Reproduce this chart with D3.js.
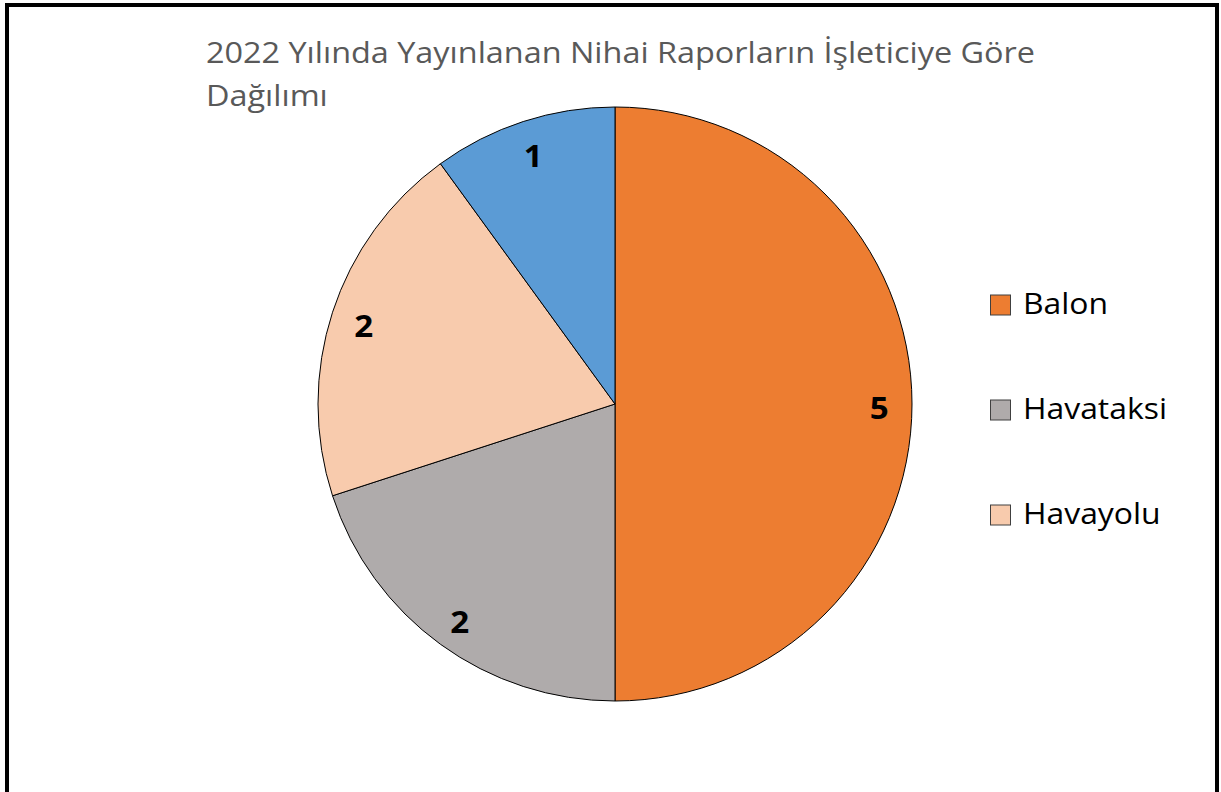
<!DOCTYPE html>
<html>
<head>
<meta charset="utf-8">
<script src="https://cdn.jsdelivr.net/npm/d3@7"></script>
<style>
  body { margin: 0; background: #fff; }
  svg text { font-family: "Open Sans", "Noto Sans", sans-serif; }
</style>
</head>
<body>
<div id="pieChart"></div>
<script>
// chart data
var categories = ["Balon", "Havataksi", "Havayolu", "Diğer"];
var values = [5, 2, 2, 1];
var colors = ["#ED7D31", "#AFABAB", "#F8CBAD", "#5B9BD5"];
var titleLines = ["2022 Yılında Yayınlanan Nihai Raporların İşleticiye Göre", "Dağılımı"];

var width = 1221,
    height = 792;

var cx = 615, cy = 404, radius = 297;

var svg = d3.select("#pieChart")
  .append("svg")
    .attr("width", width)
    .attr("height", height);

// outer frame (bottom edge is cut off in the original)
svg.append("path")
  .attr("d", "M7,795 L7,5 L1217,5 L1217,795")
  .attr("fill", "none")
  .attr("stroke", "#000")
  .attr("stroke-width", 4);

// title - text in the original is a bit wider, so stretch it
svg.append("g")
  .selectAll("text")
  .data(titleLines)
  .enter()
  .append("text")
    .attr("transform", function(d, i) { return "translate(206," + (63 + i * 43) + ") scale(1.08,1)"; })
    .attr("fill", "#595959")
    .style("font-size", "30px")
    .text(function(d) { return d; });

var data = categories.map(function(c, i) { return {name: c, value: values[i]}; });

var color = d3.scaleOrdinal()
    .domain(categories)
    .range(colors);

var pie = d3.pie()
  .sort(null)
  .value(function(d) { return d.value; });
var data_ready = pie(data);

var arc = d3.arc()
  .innerRadius(0)
  .outerRadius(radius);

var labelArc = d3.arc()
  .innerRadius(radius * 0.89)
  .outerRadius(radius * 0.89);

var g = svg.append("g")
  .attr("transform", "translate(" + cx + "," + cy + ")");

g.selectAll("path")
  .data(data_ready)
  .enter()
  .append("path")
    .attr("d", arc)
    .attr("fill", function(d) { return color(d.data.name); })
    .attr("stroke", "#000")
    .style("stroke-width", "1px");

g.selectAll("text")
  .data(data_ready)
  .enter()
  .append("text")
    .text(function(d) { return d.data.value; })
    .attr("transform", function(d) { return "translate(" + labelArc.centroid(d) + ") scale(1.07,1)"; })
    .attr("dy", "0.48em")
    .style("text-anchor", "middle")
    .style("font-size", "31px")
    .style("font-weight", "bold")
    .attr("fill", "#000");

// legend (only three entries fit in the original)
var legend = svg.append("g")
  .selectAll("g")
  .data(categories.slice(0, 3))
  .enter()
  .append("g")
    .attr("transform", function(d, i) { return "translate(990," + (305 + i * 105) + ")"; });

legend.append("rect")
  .attr("x", 0.5)
  .attr("y", -10)
  .attr("width", 20)
  .attr("height", 20)
  .attr("fill", function(d) { return color(d); })
  .attr("stroke", "#404040")
  .attr("stroke-width", 1);

legend.append("text")
  .attr("transform", "translate(33,9) scale(1.1,1)")
  .style("font-size", "29px")
  .attr("fill", "#000")
  .text(function(d) { return d; });
</script>
</body>
</html>
